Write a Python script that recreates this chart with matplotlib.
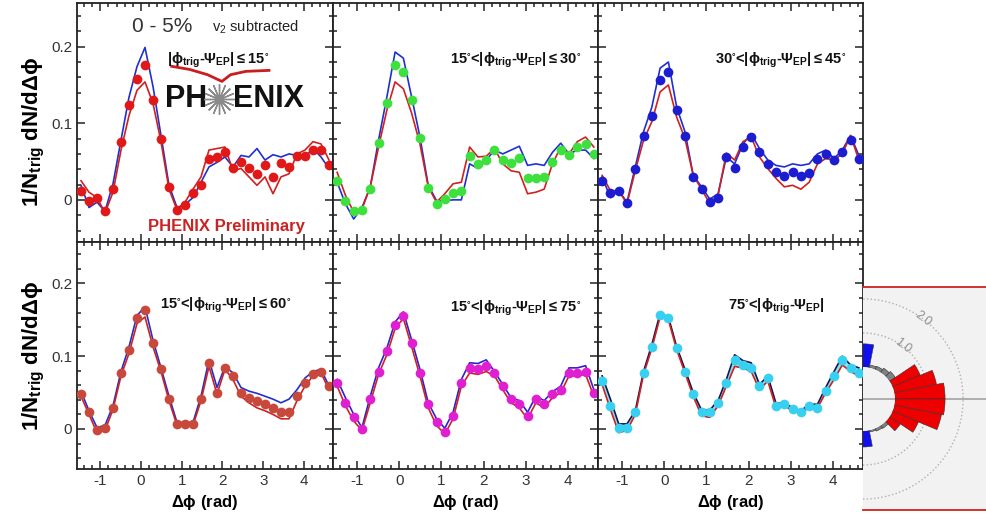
import matplotlib
matplotlib.use('Agg')
import matplotlib.pyplot as plt
import numpy as np
from matplotlib.ticker import MultipleLocator

plt.rcParams['font.family'] = ['Liberation Sans', 'DejaVu Sans']
plt.rcParams['mathtext.default'] = 'regular'

# 32 bins in delta phi from -pi/2 to 3pi/2
dphi = -np.pi / 2 + (np.arange(32) + 0.5) * np.pi / 16

# panel labels
panel_labels = [
    r'|$\phi_{trig}$-$\Psi_{EP}$|$\leq$15$^{\circ}$',
    r'15$^{\circ}$<|$\phi_{trig}$-$\Psi_{EP}$|$\leq$30$^{\circ}$',
    r'30$^{\circ}$<|$\phi_{trig}$-$\Psi_{EP}$|$\leq$45$^{\circ}$',
    r'15$^{\circ}$<|$\phi_{trig}$-$\Psi_{EP}$|$\leq$60$^{\circ}$',
    r'15$^{\circ}$<|$\phi_{trig}$-$\Psi_{EP}$|$\leq$75$^{\circ}$',
    r'75$^{\circ}$<|$\phi_{trig}$-$\Psi_{EP}$|',
]

# data points per panel
pts1 = [0.011, -0.001, 0.003, -0.015, 0.014, 0.075, 0.124, 0.158, 0.176, 0.131, 0.080, 0.017, -0.013, -0.007, 0.009, 0.020,
        0.054, 0.056, 0.062, 0.041, 0.049, 0.042, 0.034, 0.046, 0.030, 0.048, 0.043, 0.057, 0.057, 0.065, 0.065, 0.045]
pts2 = [0.025, -0.001, -0.014, -0.013, 0.014, 0.074, 0.126, 0.176, 0.167, 0.130, 0.081, 0.015, -0.006, 0.001, 0.009, 0.012,
        0.057, 0.047, 0.052, 0.065, 0.052, 0.048, 0.055, 0.028, 0.028, 0.030, 0.049, 0.065, 0.059, 0.069, 0.073, 0.060]
pts3 = [0.025, 0.009, 0.011, -0.004, 0.040, 0.083, 0.110, 0.156, 0.167, 0.117, 0.084, 0.030, 0.014, -0.003, 0.003, 0.056,
        0.041, 0.069, 0.082, 0.062, 0.047, 0.036, 0.031, 0.036, 0.031, 0.035, 0.054, 0.060, 0.052, 0.062, 0.078, 0.054]
pts4 = [0.048, 0.023, -0.002, 0.001, 0.029, 0.077, 0.109, 0.152, 0.163, 0.118, 0.082, 0.041, 0.007, 0.007, 0.007, 0.041,
        0.091, 0.050, 0.084, 0.073, 0.050, 0.043, 0.039, 0.034, 0.029, 0.023, 0.023, 0.045, 0.063, 0.075, 0.079, 0.059]
pts5 = [0.063, 0.036, 0.016, 0.000, 0.041, 0.079, 0.107, 0.143, 0.155, 0.118, 0.077, 0.034, 0.009, -0.004, 0.018, 0.063,
        0.084, 0.082, 0.086, 0.077, 0.059, 0.041, 0.034, 0.018, 0.041, 0.034, 0.048, 0.054, 0.077, 0.077, 0.079, 0.050]
pts6 = [0.066, 0.032, 0.002, 0.002, 0.023, 0.077, 0.113, 0.156, 0.152, 0.111, 0.079, 0.048, 0.023, 0.023, 0.036, 0.063,
        0.095, 0.088, 0.084, 0.059, 0.070, 0.032, 0.034, 0.027, 0.024, 0.032, 0.029, 0.052, 0.073, 0.095, 0.084, 0.077]

# upper (blue) systematic band edge
up1 = [0.019, -0.010, -0.003, -0.015, 0.021, 0.078, 0.134, 0.174, 0.199, 0.148, 0.084, 0.019, -0.010, -0.006, 0.003, 0.023,
       0.043, 0.049, 0.056, 0.043, 0.058, 0.056, 0.067, 0.052, 0.059, 0.056, 0.060, 0.058, 0.056, 0.067, 0.056, 0.041]
up2 = [0.023, -0.005, -0.025, -0.010, 0.017, 0.078, 0.134, 0.193, 0.185, 0.134, 0.082, 0.019, -0.001, -0.001, 0.000, 0.000,
       0.047, 0.041, 0.052, 0.065, 0.060, 0.065, 0.070, 0.045, 0.047, 0.045, 0.062, 0.074, 0.060, 0.065, 0.065, 0.054]
up3 = [0.030, 0.003, 0.012, -0.003, 0.043, 0.089, 0.121, 0.172, 0.180, 0.121, 0.089, 0.032, 0.017, 0.001, 0.008, 0.056,
       0.047, 0.073, 0.086, 0.067, 0.052, 0.045, 0.043, 0.047, 0.045, 0.047, 0.060, 0.065, 0.054, 0.065, 0.084, 0.058]
up4 = [0.052, 0.025, 0.002, 0.005, 0.032, 0.079, 0.113, 0.156, 0.168, 0.122, 0.084, 0.045, 0.009, 0.009, 0.009, 0.045,
       0.095, 0.057, 0.086, 0.077, 0.057, 0.052, 0.049, 0.045, 0.041, 0.036, 0.041, 0.054, 0.070, 0.079, 0.082, 0.059]
up5 = [0.068, 0.043, 0.020, 0.002, 0.045, 0.084, 0.111, 0.147, 0.161, 0.122, 0.082, 0.036, 0.014, 0.001, 0.023, 0.068,
       0.091, 0.090, 0.095, 0.079, 0.061, 0.043, 0.039, 0.023, 0.045, 0.039, 0.051, 0.059, 0.084, 0.084, 0.087, 0.054]
up6 = [0.073, 0.041, 0.007, 0.007, 0.025, 0.079, 0.116, 0.159, 0.154, 0.113, 0.082, 0.050, 0.026, 0.026, 0.039, 0.068,
       0.102, 0.094, 0.091, 0.061, 0.073, 0.035, 0.036, 0.029, 0.025, 0.034, 0.034, 0.057, 0.079, 0.100, 0.088, 0.084]

# lower (red) systematic band edge
lo1 = [0.025, 0.010, 0.003, -0.017, 0.010, 0.065, 0.110, 0.143, 0.154, 0.126, 0.076, 0.014, -0.013, -0.003, 0.014, 0.030,
       0.065, 0.067, 0.069, 0.038, 0.041, 0.030, 0.019, 0.030, 0.008, 0.030, 0.034, 0.060, 0.065, 0.076, 0.073, 0.052]
lo2 = [0.036, 0.006, -0.016, -0.012, 0.017, 0.069, 0.117, 0.154, 0.145, 0.113, 0.073, 0.017, -0.003, 0.008, 0.021, 0.023,
       0.069, 0.056, 0.057, 0.067, 0.047, 0.038, 0.036, 0.008, 0.010, 0.014, 0.047, 0.069, 0.060, 0.076, 0.082, 0.069]
lo3 = [0.032, 0.012, 0.012, -0.005, 0.038, 0.078, 0.102, 0.141, 0.150, 0.108, 0.080, 0.032, 0.014, -0.005, 0.006, 0.061,
       0.052, 0.076, 0.082, 0.056, 0.041, 0.028, 0.017, 0.019, 0.014, 0.023, 0.047, 0.054, 0.052, 0.060, 0.084, 0.052]
lo4 = [0.045, 0.020, -0.005, -0.002, 0.027, 0.073, 0.104, 0.145, 0.154, 0.113, 0.079, 0.039, 0.005, 0.005, 0.005, 0.039,
       0.086, 0.048, 0.082, 0.068, 0.045, 0.036, 0.029, 0.025, 0.020, 0.014, 0.014, 0.039, 0.059, 0.073, 0.077, 0.054]
lo5 = [0.059, 0.032, 0.011, -0.002, 0.036, 0.075, 0.102, 0.138, 0.152, 0.113, 0.073, 0.029, 0.005, -0.007, 0.014, 0.059,
       0.077, 0.075, 0.079, 0.073, 0.054, 0.036, 0.029, 0.014, 0.036, 0.029, 0.043, 0.050, 0.073, 0.073, 0.075, 0.045]
lo6 = [0.061, 0.027, -0.005, -0.002, 0.020, 0.075, 0.111, 0.154, 0.150, 0.109, 0.077, 0.045, 0.018, 0.016, 0.032, 0.059,
       0.086, 0.084, 0.079, 0.054, 0.066, 0.029, 0.032, 0.025, 0.023, 0.029, 0.029, 0.050, 0.068, 0.088, 0.079, 0.073]

points = [pts1, pts2, pts3, pts4, pts5, pts6]
uppers = [up1, up2, up3, up4, up5, up6]
lowers = [lo1, lo2, lo3, lo4, lo5, lo6]
point_colors = ['#e01818', '#3ee03e', '#1c1cd0', '#c8483c', '#e020d0', '#38d0f0']
upper_colors = ['#2030d0', '#2030d0', '#2030d0', '#2030d0', '#3020d0', '#141450']

xticks = [-1, 0, 1, 2, 3, 4]
yticks = [0, 0.1, 0.2]
ytick_labels = ['0', '0.1', '0.2']

# polar inset (right side)
bar_theta = [84.4, 73.1, 61.9, 50.6, 39.4, 28.1, 16.9, 5.6, -5.6, -16.9, -28.1, -39.4, -50.6, -61.9, -73.1, -84.4]
bar_r = [0.68, 0.08, 0.10, 0.15, 0.20, 0.88, 1.26, 1.47, 1.47, 1.41, 0.82, 0.38, 0.10, 0.08, 0.05, 0.47]
bar_colors = ['#1010ee', '#808080', '#808080', '#808080', '#808080', '#ee0000', '#ee0000', '#ee0000',
              '#ee0000', '#ee0000', '#ee0000', '#ee0000', '#808080', '#808080', '#808080', '#1010ee']
ring_values = [1, 2]
ring_labels = ['1.0', '2.0']

W, H = 986, 515
fig = plt.figure(figsize=(W / 100, H / 100), dpi=100)
gs = fig.add_gridspec(2, 3, left=77 / W, right=863 / W, top=1 - 3 / H, bottom=1 - 469 / H,
                      wspace=0, hspace=0, width_ratios=[256, 265, 265], height_ratios=[239, 227])

label_pos = [(0.352, 0.762), (0.442, 0.762), (0.442, 0.762), (0.324, 0.722), (0.442, 0.709), (0.49, 0.718)]
ylabel_y = [0.46, 0.5]

for k in range(6):
    r, c = divmod(k, 3)
    ax = fig.add_subplot(gs[r, c])
    ax.plot(dphi, uppers[k], color=upper_colors[k], lw=1.2, zorder=2)
    ax.plot(dphi, lowers[k], color='#d02020', lw=1.2, zorder=2)
    if k == 5:
        ax.fill_between(dphi, lowers[k], uppers[k], color='#60e0f8', alpha=0.8, lw=0, zorder=1)
    ax.plot(dphi, points[k], 'o', color=point_colors[k], ms=7, mec='none', zorder=3)

    ax.set_xlim(-np.pi / 2, 3 * np.pi / 2)
    ax.set_ylim(-0.055, 0.257)
    ax.set_xticks(xticks)
    ax.set_yticks(yticks)
    ax.xaxis.set_minor_locator(MultipleLocator(0.2))
    ax.yaxis.set_minor_locator(MultipleLocator(0.02))
    ax.tick_params(which='both', direction='in', top=True, right=True, width=1.1, colors='#222222',
                   labelsize=11, labelcolor='#333333')
    ax.tick_params(which='major', length=6)
    ax.tick_params(which='minor', length=3)
    for s in ax.spines.values():
        s.set_linewidth(1.3)
        s.set_color('#222222')

    if c == 0:
        ax.set_yticklabels(ytick_labels)
        ax.set_ylabel(r'1/N$_{trig}$ dN/d$\Delta\phi$', fontsize=16, fontweight='bold')
        ax.yaxis.set_label_coords(-0.117, ylabel_y[r])
    else:
        ax.set_yticklabels([])
    if r == 1:
        ax.set_xticklabels([str(t) for t in xticks])
        ax.set_xlabel(r'$\Delta\phi$ (rad)', fontsize=12, fontweight='bold', labelpad=4)
    else:
        ax.set_xticklabels([])

    ax.text(label_pos[k][0], label_pos[k][1], panel_labels[k], transform=ax.transAxes, ha='left',
            va='center', fontsize=10.5, fontweight='bold', color='#111111', zorder=5)

    if k == 0:
        ax.text(0.332, 0.900, '0 - 5%', transform=ax.transAxes, ha='center', va='center',
                fontsize=15, color='#333333')
        ax.text(0.527, 0.898, r'v$_2$ subtracted', transform=ax.transAxes, ha='left', va='center',
                fontsize=10.5, color='#222222')
        # logo swoosh
        ax.plot([0.37, 0.44, 0.51, 0.566, 0.60, 0.66, 0.75], [0.735, 0.722, 0.700, 0.672, 0.700, 0.714, 0.718],
                color='#c81e1e', lw=2.0, transform=ax.transAxes, zorder=4)
        ax.text(0.344, 0.598, 'PH', transform=ax.transAxes, ha='left', va='center',
                fontsize=22, fontweight='bold', color='#111111')
        ax.plot([0.555], [0.598], marker=(16, 2, 0), ms=22, mew=1.0, color='#8a8a8a',
                transform=ax.transAxes, zorder=4)
        ax.text(0.609, 0.598, 'ENIX', transform=ax.transAxes, ha='left', va='center',
                fontsize=22, fontweight='bold', color='#111111')
        ax.text(0.582, 0.063, 'PHENIX Preliminary', transform=ax.transAxes, ha='center', va='center',
                fontsize=12, fontweight='bold', color='#cc2222')

# background of the polar inset
bg = fig.add_axes([863 / W, 5 / H, 123 / W, 223 / H])
bg.set_facecolor('#f2f2f2')
bg.set_xlim(0, 1)
bg.set_ylim(0, 1)
bg.set_xticks([])
bg.set_yticks([])
bg.spines['left'].set_visible(False)
bg.spines['right'].set_visible(False)
bg.spines['top'].set_color('#d02020')
bg.spines['bottom'].set_color('#d02020')
bg.spines['top'].set_linewidth(1.3)
bg.spines['bottom'].set_linewidth(1.3)
bg.axhline(0.5, color='#a8a8a8', lw=1.3)

# half-disc polar axes: its square box is centred on the wedge, so shift left by a quarter
R = 111
pax = fig.add_axes([(863 - R / 2) / W, 5 / H, 2 * R / W, 2 * R / H], projection='polar')
pax.set_facecolor('none')
pax.set_thetamin(-90)
pax.set_thetamax(90)
pax.set_ylim(0, 2.32)
pax.set_rorigin(-0.94)
pax.bar(np.deg2rad(bar_theta), bar_r, width=np.deg2rad(11.25), color=bar_colors,
        edgecolor='#333333', linewidth=0.4, zorder=3)
pax.set_xticks([])
pax.set_yticks(ring_values)
pax.set_yticklabels([])
pax.yaxis.grid(True, color='#b0b0b0', linestyle=':', lw=1.0)
for s in pax.spines.values():
    s.set_linewidth(0)
for rv, rl in zip(ring_values, ring_labels):
    pax.text(np.deg2rad(53), rv, rl, rotation=-37, ha='center', va='center',
             fontsize=9, color='#909090', zorder=4)

fig.savefig('out.png', dpi=100)
